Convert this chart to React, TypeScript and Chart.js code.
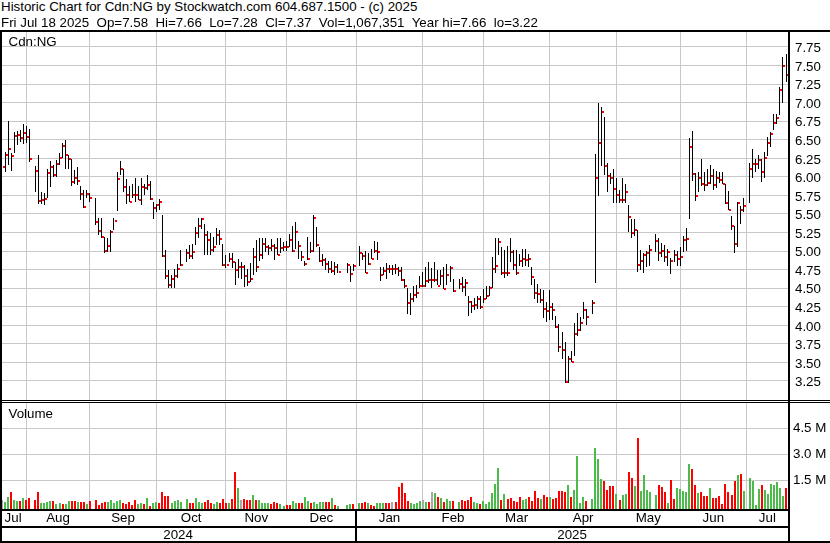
import React, { useEffect, useRef } from 'react';
import { Chart, registerables } from 'chart.js';

Chart.register(...registerables);

const FONT = "'Liberation Sans', Arial, Helvetica, sans-serif";
const FONT_SIZE = 13.33;

const TITLE_LINE_1 = 'Historic Chart for Cdn:NG by Stockwatch.com 604.687.1500 - (c) 2025';
const TITLE_LINE_2 = 'Fri Jul 18 2025  Op=7.58  Hi=7.66  Lo=7.28  Cl=7.37  Vol=1,067,351  Year hi=7.66  lo=3.22';
const SYMBOL_LABEL = 'Cdn:NG';
const VOLUME_LABEL = 'Volume';

// One slot per weekday, Mon 22 Jul 2024 .. Fri 18 Jul 2025 (null = market holiday)
const HIGH = [
  6.23, 6.34, 6.75, 6.32, 6.60, 6.62, 6.63, 6.71, 6.68, 6.65,
  null, 6.14, 6.29, 5.80, 5.78, 6.11, 6.22, 6.16, 6.23, 6.32,
  6.46, 6.50, 6.29, 6.24, 6.09, 6.13, 5.88, 5.82, 5.83, 5.78,
  null, 5.71, 5.45, 5.44, 5.19, 5.17, 5.28, 5.45, 6.06, 6.22,
  6.11, 5.97, 5.88, 5.90, 5.98, 5.88, 5.98, 5.90, 6.03, 5.94,
  5.66, 5.63, 5.70, 5.49, 5.01, 4.75, 4.68, 4.76, 4.82, 5.02,
  null, 5.03, 5.08, 5.10, 5.33, 5.45, 5.45, 5.36, 5.27, 5.24,
  5.19, 5.31, 5.28, 5.09, 4.95, 4.98, 4.98, 4.85, 4.89, 4.85,
  4.81, 4.76, 4.84, 5.04, 5.15, 5.17, 5.17, 5.17, 5.08, 5.16,
  5.10, 5.17, 5.17, 5.12, 5.14, 5.23, 5.34, 5.39, 5.14, 5.00,
  4.86, 5.19, 5.12, 5.49, 5.33, 5.06, 4.96, 4.91, 4.87, 4.86,
  4.85, 4.82, null, null, 4.84, 4.80, 4.83, null, 5.07, 4.98,
  5.00, 4.97, 5.03, 5.13, 5.12, 4.79, 4.78, 4.84, 4.81, 4.81,
  4.82, 4.78, 4.79, 4.62, 4.50, 4.44, 4.53, 4.55, 4.66, 4.72,
  4.78, 4.85, 4.77, 4.85, 4.75, 4.74, 4.78, 4.82, 4.80, 4.63,
  null, 4.63, 4.65, 4.63, 4.39, 4.33, 4.37, 4.39, 4.40, 4.49,
  4.53, 4.53, 4.92, 5.17, 5.17, 5.05, 5.01, 5.07, 5.17, 5.01,
  5.01, 4.96, 5.03, 5.03, 4.96, 4.78, 4.62, 4.56, 4.49, 4.48,
  4.31, 4.48, 4.30, 4.12, 4.02, 3.91, 3.77, 3.59, 3.65, 4.03,
  4.17, 4.11, 4.31, 4.22, null, 4.34, 6.31, 6.99, 6.94, 6.81,
  6.19, 6.05, 6.11, 5.99, 5.83, 5.99, 5.91, 5.62, 5.43, 5.43,
  5.29, 5.02, 4.98, 5.00, 5.08, null, 5.23, 5.18, 5.11, 5.08,
  5.03, 4.91, 5.02, 5.00, 5.05, 5.21, 5.31, 6.53, 6.62, 6.05,
  6.07, 6.24, 6.07, 6.11, 6.16, 6.11, 6.08, 6.07, 6.06, 5.91,
  5.81, 5.47, 5.34, 5.66, 5.61, 5.72, null, 6.19, 6.38, 6.24,
  6.30, 6.24, 6.33, 6.54, 6.61, 6.85, 6.85, 7.21, 7.62, 7.66,
];

const LOW = [
  5.96, 6.06, 6.16, 6.08, 6.32, 6.43, 6.47, 6.44, 6.45, 6.20,
  null, 5.79, 5.64, 5.64, 5.62, 5.71, 5.87, 6.00, 6.00, 6.16,
  6.25, 6.11, 6.11, 5.88, 5.90, 5.89, 5.69, 5.58, 5.71, 5.66,
  null, 5.35, 5.22, 5.17, 4.97, 4.99, 4.99, 5.28, 5.54, 6.03,
  5.80, 5.64, 5.66, 5.71, 5.66, 5.69, 5.62, 5.76, 5.82, 5.69,
  5.43, 5.53, 5.55, 4.92, 4.63, 4.50, 4.50, 4.50, 4.64, 4.80,
  null, 4.85, 4.90, 4.90, 5.08, 5.17, 5.30, 4.95, 4.95, 4.95,
  4.99, 5.08, 5.08, 4.80, 4.77, 4.85, 4.77, 4.54, 4.64, 4.63,
  4.52, 4.53, 4.58, 4.68, 4.72, 4.86, 4.90, 4.99, 4.95, 5.00,
  4.88, 4.95, 4.97, 5.00, 5.00, 5.05, 4.99, 5.03, 4.90, 4.86,
  4.80, 4.88, 4.97, 4.99, 5.06, 4.85, 4.80, 4.75, 4.71, 4.70,
  4.68, 4.70, null, null, 4.70, 4.58, 4.73, null, 4.80, 4.88,
  4.70, 4.81, 4.89, 4.98, 4.88, 4.60, 4.68, 4.62, 4.70, 4.68,
  4.69, 4.66, 4.60, 4.50, 4.15, 4.14, 4.32, 4.37, 4.50, 4.51,
  4.51, 4.57, 4.50, 4.58, 4.55, 4.55, 4.49, 4.55, 4.58, 4.45,
  null, 4.49, 4.45, 4.40, 4.12, 4.17, 4.20, 4.22, 4.22, 4.30,
  4.35, 4.40, 4.50, 4.70, 4.95, 4.68, 4.64, 4.66, 4.85, 4.75,
  4.68, 4.80, 4.78, 4.80, 4.78, 4.55, 4.35, 4.30, 4.30, 4.10,
  4.04, 4.07, 4.07, 3.97, 3.64, 3.54, 3.22, 3.22, 3.50, 3.59,
  3.86, 3.92, 4.09, 4.00, null, 4.15, 4.57, 5.74, 6.15, 6.02,
  5.79, 5.90, 5.65, 5.65, 5.65, 5.65, 5.65, 5.26, 5.17, 5.20,
  4.72, 4.75, 4.71, 4.78, 4.80, null, 4.99, 4.87, 4.92, 4.85,
  4.80, 4.69, 4.85, 4.80, 4.80, 4.99, 5.00, 5.43, 5.94, 5.68,
  5.80, 5.88, 5.81, 5.88, 5.90, 5.83, 5.85, 5.92, 5.91, 5.64,
  5.56, 5.29, 4.97, 5.05, 5.37, 5.53, null, 5.65, 5.98, 6.06,
  6.10, 5.93, 5.98, 6.28, 6.40, 6.63, 6.71, 6.84, 7.00, 7.28,
];

const CLOSE = [
  6.13, 6.29, 6.38, 6.28, 6.55, 6.56, 6.53, 6.59, 6.54, 6.24,
  null, 6.08, 5.67, 5.69, 5.70, 6.05, 6.13, 6.03, 6.18, 6.26,
  6.42, 6.29, 6.24, 5.93, 5.98, 5.94, 5.77, 5.59, 5.77, 5.71,
  null, 5.39, 5.27, 5.19, 5.00, 5.07, 5.26, 5.41, 5.97, 6.11,
  5.86, 5.76, 5.66, 5.76, 5.75, 5.69, 5.86, 5.85, 5.89, 5.70,
  5.58, 5.62, 5.66, 4.93, 4.67, 4.55, 4.62, 4.66, 4.76, 4.81,
  null, 4.97, 4.93, 4.99, 5.24, 5.34, 5.43, 5.22, 5.15, 5.01,
  5.05, 5.22, 5.16, 4.81, 4.81, 4.89, 4.85, 4.74, 4.78, 4.78,
  4.66, 4.59, 4.62, 4.92, 4.78, 4.95, 5.09, 5.05, 5.04, 5.07,
  5.04, 4.95, 5.04, 5.05, 5.06, 5.15, 5.00, 5.26, 5.07, 4.92,
  4.83, 4.89, 5.00, 5.44, 5.08, 4.87, 4.88, 4.82, 4.76, 4.73,
  4.78, 4.72, null, null, 4.81, 4.69, 4.80, null, 4.97, 4.94,
  4.71, 4.82, 4.89, 5.00, 4.99, 4.68, 4.73, 4.76, 4.76, 4.76,
  4.76, 4.73, 4.61, 4.53, 4.30, 4.35, 4.41, 4.43, 4.53, 4.53,
  4.60, 4.61, 4.61, 4.61, 4.53, 4.66, 4.49, 4.68, 4.77, 4.46,
  null, 4.56, 4.52, 4.57, 4.32, 4.26, 4.28, 4.36, 4.25, 4.36,
  4.40, 4.50, 4.76, 4.80, 5.12, 4.70, 4.71, 4.70, 4.99, 4.81,
  4.70, 4.87, 4.89, 4.88, 4.89, 4.65, 4.43, 4.42, 4.34, 4.22,
  4.19, 4.25, 4.21, 3.98, 3.71, 3.67, 3.24, 3.54, 3.51, 3.88,
  3.94, 4.03, 4.20, 4.11, null, 4.30, 5.99, 6.46, 6.88, 6.15,
  6.01, 5.99, 5.84, 5.76, 5.69, 5.69, 5.80, 5.46, 5.24, 5.29,
  4.81, 4.87, 4.95, 4.98, 5.02, null, 5.13, 4.97, 5.00, 4.92,
  4.99, 4.87, 4.95, 4.90, 4.92, 5.15, 5.16, 6.40, 6.04, 5.74,
  5.99, 5.91, 5.89, 5.92, 6.01, 5.89, 5.99, 5.96, 5.91, 5.65,
  5.56, 5.34, 5.10, 5.65, 5.56, 5.61, null, 6.10, 6.18, 6.18,
  6.23, 6.07, 6.26, 6.46, 6.58, 6.72, 6.79, 7.17, 7.50, 7.37,
];

// Daily volume, millions of shares
const VOLUME_M = [
  0.36, 0.27, 0.56, 0.84, 0.36, 0.31, 0.31, 0.50, 0.36, 0.46,
  null, 0.36, 0.84, 0.21, 0.21, 0.27, 0.31, 0.31, 0.15, 0.21,
  0.11, 0.13, 0.31, 0.31, 0.31, 0.25, 0.25, 0.25, 0.15, 0.31,
  null, 0.36, 0.09, 0.21, 0.25, 0.25, 0.36, 0.17, 0.31, 0.36,
  0.21, 0.15, 0.25, 0.09, 0.36, 0.13, 0.21, 0.13, 0.50, 0.02,
  0.21, 0.25, 0.21, 0.82, 0.59, 0.59, 0.21, 0.31, 0.36, 0.25,
  null, 0.42, 0.17, 0.21, 0.46, 0.25, 0.21, 0.25, 0.36, 0.17,
  0.11, 0.25, 0.17, 0.42, 0.17, 0.17, 0.44, 1.96, 1.06, 0.34,
  0.42, 0.36, 0.36, 0.65, 0.36, 0.36, 0.17, 0.17, 0.21, 0.13,
  0.25, 0.21, 0.11, 0.02, 0.08, 0.08, 0.31, 0.17, 0.17, 0.21,
  0.54, 0.31, 0.17, 0.23, 0.15, 0.23, 0.23, 0.25, 0.25, 0.48,
  0.08, 0.03, null, null, 0.08, 0.11, 0.11, null, 0.17, 0.17,
  0.27, 0.21, 0.09, 0.02, 0.17, 0.17, 0.17, 0.17, 0.17, 0.27,
  0.23, 1.13, 1.32, 0.75, 0.31, 0.17, 0.13, 0.17, 0.31, 0.36,
  0.23, 0.23, 0.84, 0.75, 0.56, 0.46, 0.23, 0.40, 0.31, 0.31,
  null, 0.23, 0.36, 0.31, 0.36, 0.54, 0.25, 0.21, 0.13, 0.31,
  0.13, 0.25, 0.75, 1.27, 2.21, 0.36, 0.71, 0.42, 0.46, 0.31,
  0.25, 0.54, 0.36, 0.42, 0.54, 0.31, 0.88, 0.46, 0.42, 0.65,
  0.56, 0.56, 0.42, 0.46, 0.88, 0.88, 0.84, 1.23, 0.54, 0.94,
  2.90, 0.17, 0.54, 0.31, null, 0.42, 3.36, 2.73, 1.58, 1.46,
  0.94, 1.19, 1.19, 0.71, 0.36, 0.65, 0.71, 2.00, 1.63, 1.19,
  3.94, 0.88, 1.81, 0.94, 0.84, null, 0.65, 1.23, 1.13, 0.82,
  0.21, 1.52, 0.42, 1.04, 0.98, 0.88, 0.84, 2.44, 2.15, 1.23,
  0.79, 0.84, 0.61, 0.61, 1.04, 0.46, 0.50, 0.61, 0.13, 1.27,
  0.84, 0.65, 1.46, 1.81, 1.86, 0.88, null, 1.62, 1.46, 0.08,
  1.00, 1.23, 0.94, 0.71, 1.29, 1.23, 1.38, 1.04, 0.59, 1.07,
];

// Volume bar colour per slot: g = up, r = down, n = unchanged, . = holiday
const VOLUME_DIR =
  'nggrggrgrr' + '.rrggggrgg' + 'rggrrgrrgr' + '.rrrrggggg' + 'rrrrrggrgr' +
  'ggrrrrgggg' + '.grrgggrrr' + 'ggrrrgrrgn' + 'rrrgrggggr' + 'rrggrrggrr' +
  'ggrggggrrg' + 'rg..ggr.gr' + 'rgrrgggrrn' + 'rrrrrggggn' + 'grngrgrggr' +
  '.grrrrggrg' + 'gggggrgrrr' + 'rrggrrrrgr' + 'rgrrrrrgrg' + 'gggr.ggggr' +
  'rrrgrggrrg' + 'rgggg.grrr' + 'grrgggggrr' + 'grrrgrrrrr' + 'rrrgrg.ggg' +
  'grgggggggr';

const MONTH_LABELS = ['Jul', 'Aug', 'Sep', 'Oct', 'Nov', 'Dec', 'Jan', 'Feb', 'Mar', 'Apr', 'May', 'Jun', 'Jul'];
const MONTH_EDGES = [-0.66, 8, 29, 51, 74, 94, 117, 139, 159, 181, 203, 224, 246, 259.66];
const YEAR_LABELS = ['2024', '2025'];
const YEAR_EDGES = [-0.66, 117, 259.66];
const PRICE_TICKS = [3.25, 3.5, 3.75, 4, 4.25, 4.5, 4.75, 5, 5.25, 5.5, 5.75, 6, 6.25, 6.5, 6.75, 7, 7.25, 7.5, 7.75];
const VOLUME_TICKS = [1.5, 3.0, 4.5];

const PRICE_MIN = 2.994;
const PRICE_MAX = 7.952;
const VOLUME_MIN = -0.156;
const VOLUME_MAX = 5.96;

const X_MIN = MONTH_EDGES[0];
const X_MAX = MONTH_EDGES[MONTH_EDGES.length - 1];

const GRID = '#c8c8c8';
const DIR_COLORS: Record<string, string> = { g: '#4cbb4c', r: '#ff0000', n: '#a8a8a8' };

const mids = (edges: number[]) => edges.slice(0, -1).map((e, i) => (e + edges[i + 1]) / 2);

const font = { family: FONT, size: FONT_SIZE };

// Snap the library-computed element positions onto whole pixels so the thin bars stay crisp.
const crispPlugin = {
  id: 'crispMarks',
  beforeDatasetsDraw(chart: any) {
    chart.data.datasets.forEach((_ds: any, di: number) => {
      const meta = chart.getDatasetMeta(di);
      meta.data.forEach((el: any) => {
        if (meta.type === 'bar') {
          const w = Math.round(el.width);
          el.x = w % 2 === 1 ? Math.floor(el.x) + 0.5 : Math.round(el.x);
          el.y = Math.round(el.y);
          el.base = Math.round(el.base);
        } else {
          el.x = Math.round(el.x);
          el.y = Math.round(el.y);
        }
      });
    });
  },
};

function gridXAxis() {
  return {
    type: 'linear',
    min: X_MIN,
    max: X_MAX,
    bounds: 'data',
    offset: false,
    position: 'bottom',
    weight: 0,
    afterBuildTicks: (s: any) => {
      s.ticks = MONTH_EDGES.slice(1, -1).map((v) => ({ value: v }));
    },
    ticks: { display: false },
    grid: { color: GRID, lineWidth: 1, drawTicks: false, offset: false },
    border: { display: false },
    afterFit: (s: any) => {
      s.height = 0;
      s.paddingLeft = 0;
      s.paddingRight = 0;
    },
  };
}

function labelXAxis(edges: number[], labels: string[], weight: number, height: number, padding: number) {
  const positions = mids(edges);
  return {
    type: 'linear',
    min: X_MIN,
    max: X_MAX,
    bounds: 'data',
    offset: false,
    position: 'bottom',
    weight,
    afterBuildTicks: (s: any) => {
      s.ticks = positions.map((v) => ({ value: v }));
    },
    ticks: {
      autoSkip: false,
      maxRotation: 0,
      minRotation: 0,
      padding,
      color: '#000',
      font,
      callback: (_v: any, i: number) => labels[i],
    },
    grid: { display: false, drawTicks: false },
    border: { display: false },
    afterFit: (s: any) => {
      s.height = height;
      s.paddingLeft = 0;
      s.paddingRight = 0;
    },
  };
}

function priceConfig(): any {
  const hl: any[] = [];
  const cl: any[] = [];
  HIGH.forEach((h, i) => {
    if (h != null && LOW[i] != null) hl.push({ x: i, y: [LOW[i], h] });
    if (CLOSE[i] != null) cl.push({ x: i, y: CLOSE[i] });
  });
  return {
    type: 'bar',
    data: {
      datasets: [
        {
          type: 'bar',
          label: 'High-Low',
          data: hl,
          backgroundColor: '#000',
          borderWidth: 0,
          barThickness: 1,
          grouped: false,
          inflateAmount: 0,
          xAxisID: 'x',
          yAxisID: 'y',
        },
        {
          type: 'scatter',
          label: 'Close',
          data: cl,
          pointStyle: 'rect',
          pointRadius: 1.42,
          backgroundColor: '#ff0000',
          pointBackgroundColor: '#ff0000',
          borderWidth: 0,
          pointBorderWidth: 0,
          xAxisID: 'xClose',
          yAxisID: 'y',
        },
      ],
    },
    plugins: [crispPlugin],
    options: {
      animation: false,
      responsive: false,
      maintainAspectRatio: false,
      events: [],
      layout: { padding: 0, autoPadding: false },
      plugins: { legend: { display: false }, tooltip: { enabled: false }, title: { display: false } },
      scales: {
        x: gridXAxis(),
        xClose: {
          type: 'linear',
          display: false,
          min: X_MIN - 0.5,
          max: X_MAX - 0.5,
          bounds: 'data',
          offset: false,
        },
        y: {
          type: 'linear',
          position: 'right',
          min: PRICE_MIN,
          max: PRICE_MAX,
          bounds: 'data',
          afterBuildTicks: (s: any) => {
            s.ticks = PRICE_TICKS.map((v) => ({ value: v }));
          },
          ticks: {
            autoSkip: false,
            padding: 7,
            labelOffset: 1.5,
            color: '#000',
            font,
            callback: (v: any) => Number(v).toFixed(2),
          },
          grid: { color: GRID, lineWidth: 1, drawTicks: false },
          border: { display: false },
          afterFit: (s: any) => {
            s.width = 42;
            s.paddingTop = 0;
            s.paddingBottom = 0;
          },
        },
      },
    },
  };
}

function volumeConfig(): any {
  const pts: any[] = [];
  const colors: string[] = [];
  VOLUME_M.forEach((v, i) => {
    if (v != null) {
      pts.push({ x: i, y: v });
      colors.push(DIR_COLORS[VOLUME_DIR[i]] || DIR_COLORS.n);
    }
  });
  return {
    type: 'bar',
    data: {
      datasets: [
        {
          type: 'bar',
          label: 'Volume',
          data: pts,
          base: VOLUME_MIN,
          backgroundColor: colors,
          borderWidth: 0,
          barThickness: 2,
          grouped: false,
          inflateAmount: 0,
          xAxisID: 'x',
          yAxisID: 'y',
        },
      ],
    },
    plugins: [crispPlugin],
    options: {
      animation: false,
      responsive: false,
      maintainAspectRatio: false,
      events: [],
      layout: { padding: 0, autoPadding: false },
      plugins: { legend: { display: false }, tooltip: { enabled: false }, title: { display: false } },
      scales: {
        x: gridXAxis(),
        xMonth: labelXAxis(MONTH_EDGES, MONTH_LABELS, 1, 18, 1),
        xYear: labelXAxis(YEAR_EDGES, YEAR_LABELS, 2, 16, 0),
        y: {
          type: 'linear',
          position: 'right',
          min: VOLUME_MIN,
          max: VOLUME_MAX,
          bounds: 'data',
          afterBuildTicks: (s: any) => {
            s.ticks = VOLUME_TICKS.map((v) => ({ value: v }));
          },
          ticks: {
            autoSkip: false,
            padding: 5,
            color: '#000',
            font,
            callback: (v: any) => Number(v).toFixed(1) + ' M',
          },
          grid: { color: GRID, lineWidth: 1, drawTicks: false },
          border: { display: false },
          afterFit: (s: any) => {
            s.width = 42;
            s.paddingTop = 0;
            s.paddingBottom = 0;
          },
        },
      },
    },
  };
}

const FRAME = [
  { left: 0, top: 30, width: 830, height: 2 },
  { left: 0, top: 30, width: 2, height: 513 },
  { left: 788, top: 30, width: 2, height: 513 },
  { left: 0, top: 400, width: 830, height: 1 },
  { left: 0, top: 402, width: 830, height: 1 },
  { left: 0, top: 509, width: 790, height: 2 },
  { left: 0, top: 526, width: 790, height: 2 },
  { left: 0, top: 541, width: 830, height: 2 },
  { left: 355, top: 509, width: 2, height: 34 },
];

export default function App() {
  const priceRef = useRef<HTMLCanvasElement | null>(null);
  const volumeRef = useRef<HTMLCanvasElement | null>(null);

  useEffect(() => {
    Chart.defaults.font.family = FONT;
    Chart.defaults.font.size = FONT_SIZE;
    Chart.defaults.color = '#000';
    const price = new Chart(priceRef.current as HTMLCanvasElement, priceConfig());
    const volume = new Chart(volumeRef.current as HTMLCanvasElement, volumeConfig());
    return () => {
      price.destroy();
      volume.destroy();
    };
  }, []);

  const text: React.CSSProperties = {
    position: 'absolute',
    fontFamily: FONT,
    fontSize: FONT_SIZE,
    lineHeight: '15px',
    color: '#000',
    whiteSpace: 'pre',
  };

  return (
    <div
      style={{
        position: 'absolute',
        left: 0,
        top: 0,
        width: 830,
        height: 543,
        background: '#fff',
        overflow: 'hidden',
      }}
    >
      <canvas ref={priceRef} width={830} height={368} style={{ position: 'absolute', left: 0, top: 32 }} />
      <canvas ref={volumeRef} width={830} height={140} style={{ position: 'absolute', left: 0, top: 403 }} />
      {FRAME.map((r, i) => (
        <div key={i} style={{ position: 'absolute', background: '#000', ...r }} />
      ))}
      <div style={{ ...text, left: 1, top: -1 }}>{TITLE_LINE_1}</div>
      <div style={{ ...text, left: 1, top: 14.6 }}>{TITLE_LINE_2}</div>
      <div style={{ ...text, left: 8.5, top: 34 }}>{SYMBOL_LABEL}</div>
      <div style={{ ...text, left: 8.5, top: 405.6 }}>{VOLUME_LABEL}</div>
    </div>
  );
}
